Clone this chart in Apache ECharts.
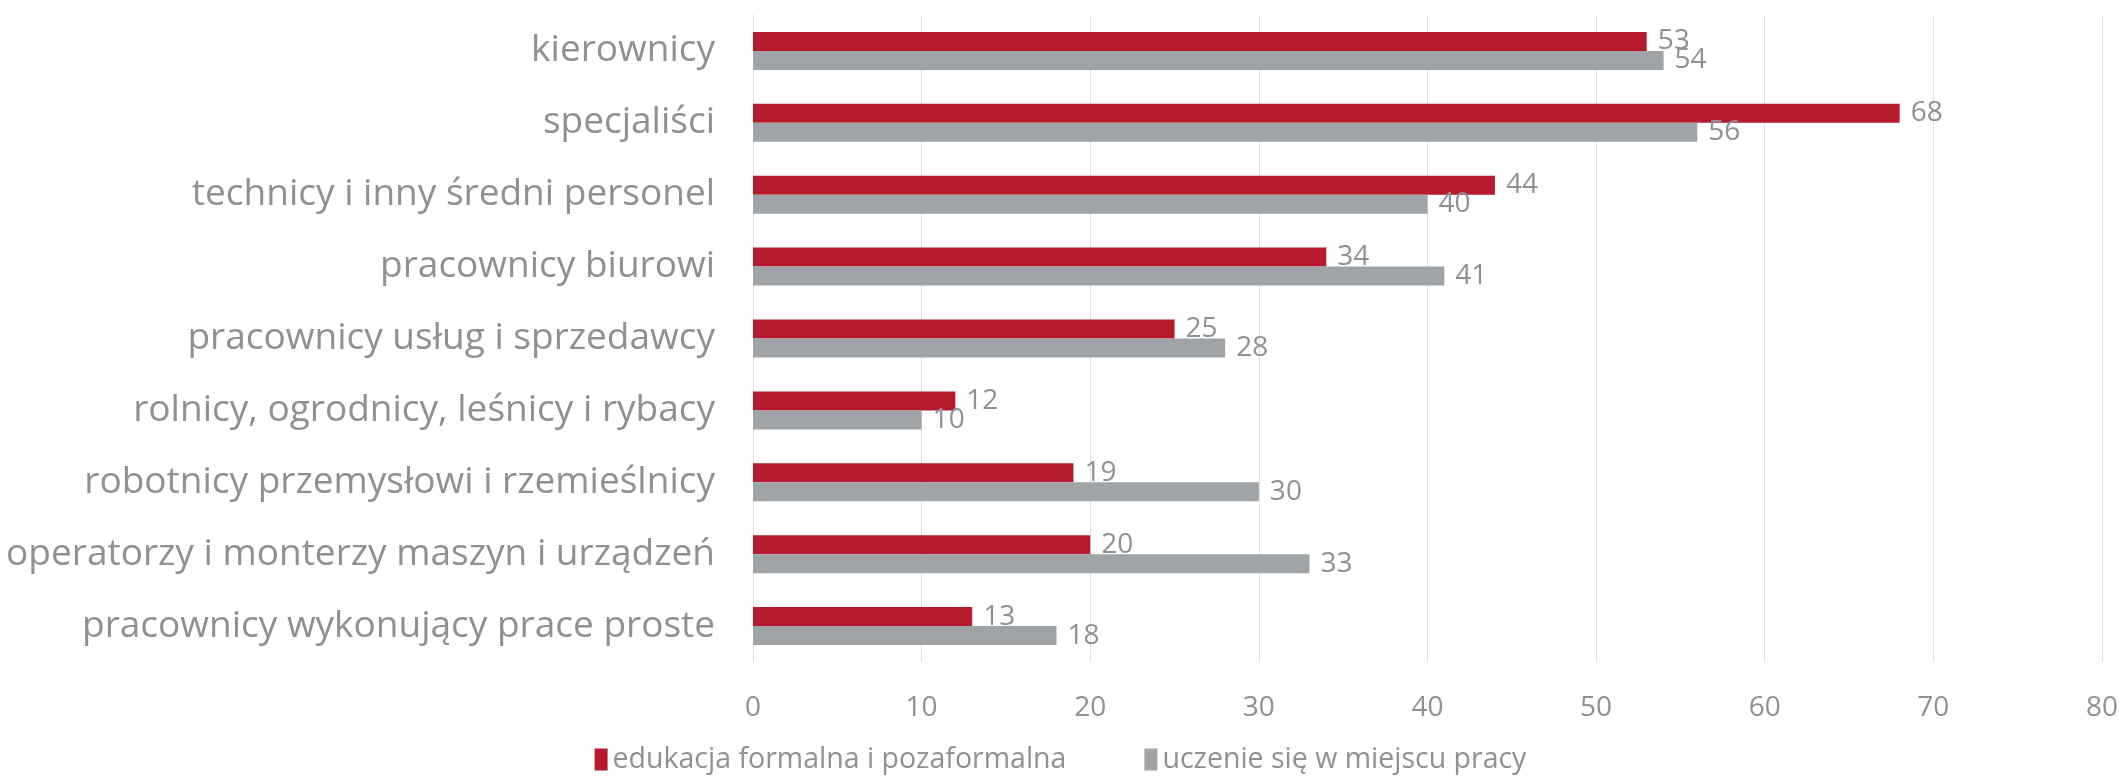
<!DOCTYPE html>
<html><head><meta charset="utf-8">
<script src="https://cdn.jsdelivr.net/npm/echarts@6/dist/echarts.min.js"></script>
<style>html,body{margin:0;padding:0;background:#fff}#c{width:2121px;height:780px}</style>
</head><body><div id="c"></div>
<script>
const categories = ["kierownicy","specjaliści","technicy i inny średni personel","pracownicy biurowi","pracownicy usług i sprzedawcy","rolnicy, ogrodnicy, leśnicy i rybacy","robotnicy przemysłowi i rzemieślnicy","operatorzy i monterzy maszyn i urządzeń","pracownicy wykonujący prace proste"];
const seriesNames = ["edukacja formalna i pozaformalna","uczenie się w miejscu pracy"];
const formalValues = [53,68,44,34,25,12,19,20,13];
const workplaceValues = [54,56,40,41,28,10,30,33,18];
const xTicks = {min:0,max:80,interval:10};
const font = "Open Sans";
const textColor = "#8d9194";
const chart = echarts.init(document.getElementById('c'));
chart.setOption({
  animation:false,
  textStyle:{fontFamily:font},
  grid:{left:753,right:18,top:15,bottom:118,containLabel:false},
  legend:{top:740,left:'center',itemWidth:13,itemHeight:22,itemGap:78,icon:'rect',
    textStyle:{fontFamily:font,fontSize:28.5,color:textColor},data:seriesNames},
  xAxis:{type:'value',min:xTicks.min,max:xTicks.max,interval:xTicks.interval,
    axisLine:{show:false},axisTick:{show:false},
    splitLine:{lineStyle:{color:'#e0e0e0',width:1}},
    axisLabel:{fontFamily:font,fontSize:28,color:textColor,margin:32}},
  yAxis:{type:'category',data:categories,inverse:true,
    axisLine:{show:true,lineStyle:{color:'#e0e0e0'}},axisTick:{show:false},
    axisLabel:{fontFamily:font,fontSize:37,color:textColor,margin:38}},
  series:[
    {name:seriesNames[0],type:'bar',data:formalValues,barWidth:19,barGap:'0%',
     itemStyle:{color:'#b51b2b'},
     label:{show:true,position:'right',distance:11,fontFamily:font,fontSize:28,color:textColor}},
    {name:seriesNames[1],type:'bar',data:workplaceValues,barWidth:19,barGap:'0%',
     itemStyle:{color:'#a0a4a7'},
     label:{show:true,position:'right',distance:11,fontFamily:font,fontSize:28,color:textColor}}
  ]
});
</script></body></html>
